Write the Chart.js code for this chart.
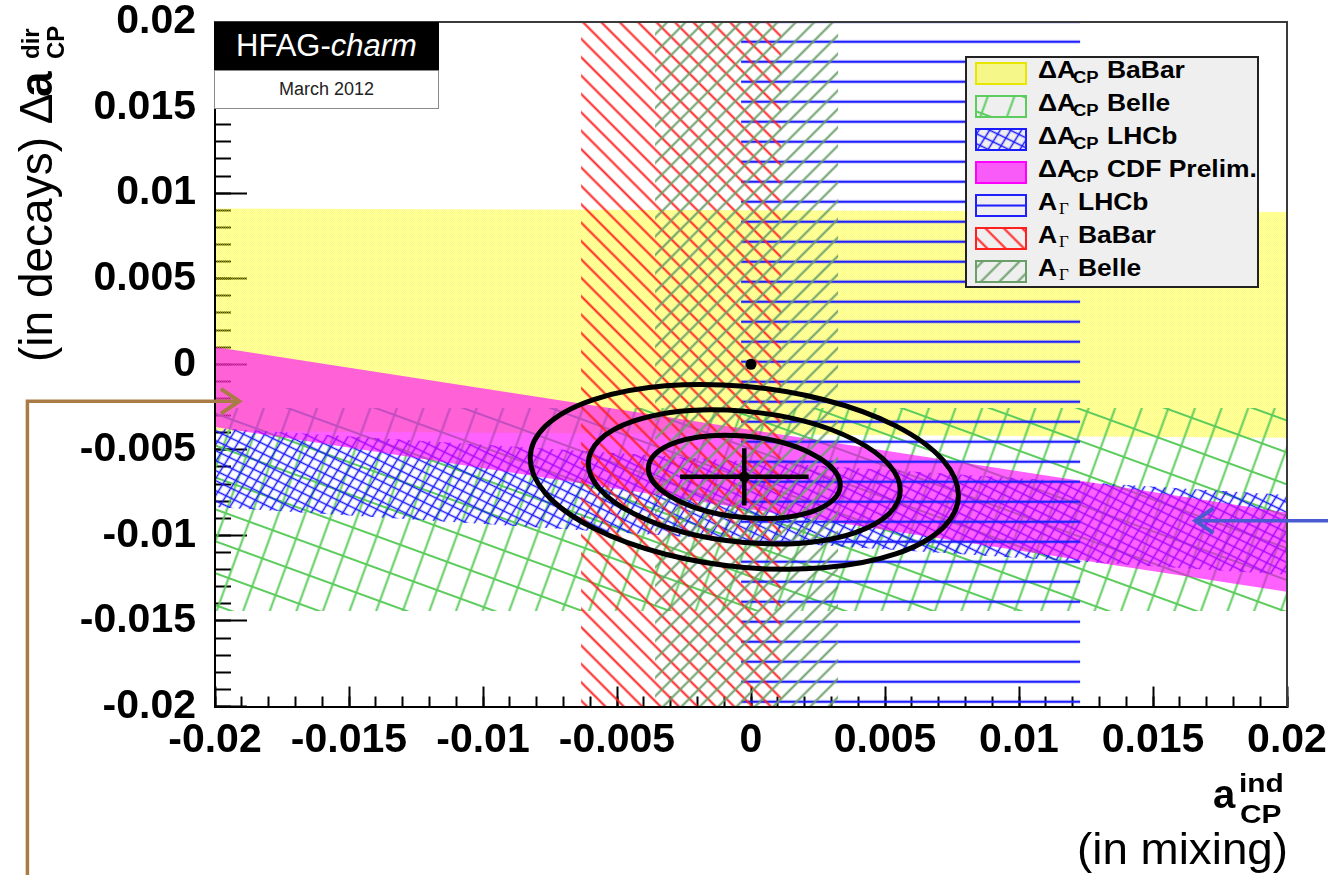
<!DOCTYPE html>
<html>
<head>
<meta charset="utf-8">
<title>a_CP^ind vs Δa_CP^dir</title>
<script src="https://cdn.jsdelivr.net/npm/chart.js@4.4.1/dist/chart.umd.min.js"></script>
<style>
  body { margin: 0; background: #fff; }
  #page { position: relative; width: 1328px; height: 875px; overflow: hidden;
          font-family: "Liberation Sans", Arial, Helvetica, sans-serif; color: #000; }
  #plot { position: absolute; left: 0; top: 0; }
  .txt { position: absolute; white-space: nowrap; line-height: 1; transform-origin: 0 0; }
  .b { font-weight: bold; }
  #hfag { position: absolute; left: 214px; top: 22px; width: 225px; height: 48px; background: #000;
          color: #fff; font-size: 31px; display: flex; align-items: center; justify-content: center; }
  #date { position: absolute; left: 214px; top: 70px; width: 223px; height: 37px; background: #fff;
          border: 1px solid #8a8a8a; font-size: 18px; color: #222;
          display: flex; align-items: center; justify-content: center; }
  #legend { position: absolute; left: 965px; top: 56px; width: 290px; height: 228px;
            background: #efefef; border: 2px solid #222; }
  #legend canvas { position: absolute; left: 8px; }
  #ytitle { position: absolute; left: 0; top: 875px; width: 875px; height: 80px;
            transform-origin: 0 0; transform: rotate(-90deg); }
</style>
</head>
<body>
<div id="page">
  <canvas id="plot" width="1328" height="875"></canvas>
  <div id="hfag"><span>HFAG-<i>charm</i></span></div>
  <div id="date">March 2012</div>
  <div id="legend"></div>
  <div id="ytitle">
    <span class="txt" style="left:513px; top:13px; font-size:46px;">(in decays) Δ</span>
    <span class="txt b" style="left:778px; top:13px; font-size:46px;">a</span>
    <span class="txt b" style="left:816px; top:19px; font-size:24px;">dir</span>
    <span class="txt b" style="left:816px; top:44px; font-size:24px;">CP</span>
  </div>
  <span class="txt b" style="left:1213px; top:774px; font-size:40px;">a</span>
  <span class="txt b" style="left:1239px; top:770px; font-size:26px; transform:scaleX(1.15);">ind</span>
  <span class="txt b" style="left:1240px; top:801px; font-size:26px; transform:scaleX(1.15);">CP</span>
  <span class="txt" style="left:1077px; top:827px; font-size:44px; transform:scaleX(1.04);">(in mixing)</span>
</div>
<script>
// axis range and tick labels
const axisMin = -0.02, axisMax = 0.02;
const xTickValues = [-0.02, -0.015, -0.01, -0.005, 0, 0.005, 0.01, 0.015, 0.02];
const xTickLabels = ['-0.02', '-0.015', '-0.01', '-0.005', '0', '0.005', '0.01', '0.015', '0.02'];
const yTickValues = [-0.02, -0.015, -0.01, -0.005, 0, 0.005, 0.01, 0.015, 0.02];
const yTickLabels = ['-0.02', '-0.015', '-0.01', '-0.005', '0', '0.005', '0.01', '0.015', '0.02'];

// ΔA_CP bands: upper/lower edge at a_ind = -0.02 and +0.02
const bandEnds = [-0.02, 0.02];
const babarDacpHigh = [0.0091, 0.0089];
const babarDacpLow = [-0.0039, -0.0043];
const belleDacpHigh = [-0.00255, -0.00255];
const belleDacpLow = [-0.01442, -0.01442];
const lhcbDacpHigh = [-0.00372, -0.00764];
const lhcbDacpLow = [-0.00834, -0.0123];
const cdfDacpHigh = [0.00101, -0.00868];
const cdfDacpLow = [-0.00366, -0.0133];

// A_Gamma bands: a_ind range, over the whole Δa_dir axis
const fullSpan = [-0.02, 0.02];
const lhcbAgamma = [-0.00037, 0.01228];
const babarAgamma = [-0.00634, 0.00113];
const belleAgamma = [-0.00358, 0.00325];

// combined fit: central value, 1 sigma errors, 1/2/3 sigma contour half extents
const fitPoint = [-0.00025, -0.00658];
const fitErrors = [0.0024, 0.00167];
const contourHalfX = [0.00358, 0.00582, 0.00799];
const contourHalfY = [0.00243, 0.00392, 0.0054];
const contourCorr = -0.2;
const noCpvPoint = [0, 0];

// pointer arrows
const leftArrowX = [-0.0270, -0.0270, -0.0191];
const leftArrowY = [-0.0299, -0.00216, -0.00216];
const rightArrowX = [0.0216, 0.01658];
const rightArrowY = [-0.00914, -0.00914];

// legend
const legendMain = ['ΔA', 'ΔA', 'ΔA', 'ΔA', 'A', 'A', 'A'];
const legendSub = ['CP', 'CP', 'CP', 'CP', 'Γ', 'Γ', 'Γ'];
const legendName = ['BaBar', 'Belle', 'LHCb', 'CDF Prelim.', 'LHCb', 'BaBar', 'Belle'];

// fill patterns
function tile(w, h) {
  const c = document.createElement('canvas');
  c.width = w; c.height = h;
  return c;
}
function hatch(color, width, spacing, angle, shift = 0) {
  const c = tile(8, spacing);
  const g = c.getContext('2d');
  g.strokeStyle = color; g.lineWidth = width;
  g.beginPath(); g.moveTo(0, spacing / 2); g.lineTo(8, spacing / 2); g.stroke();
  const p = g.createPattern(c, 'repeat');
  p.setTransform(new DOMMatrix().rotate(angle).translate(0, shift));
  return p;
}
function dots(color, cells) {
  const c = tile(2, 2);
  const g = c.getContext('2d');
  g.fillStyle = color;
  cells.forEach(([i, j, a]) => { g.globalAlpha = a; g.fillRect(i, j, 1, 1); });
  return g.createPattern(c, 'repeat');
}

const cYellow = '#ffff00', cBelle = '#5ccc5c', cLhcb = '#1a1aff', cCdf = '#ff00ff';
const cLines = '#2020ff', cBabarG = '#ff2020', cBelleG = '#6a9f6a';

const yellowFill = dots(cYellow, [[0, 0, 0.6], [1, 1, 0.6], [1, 0, 0.25], [0, 1, 0.25]]);
const belleMeshA = hatch(cBelle, 2, 25, -70);
const belleMeshB = hatch(cBelle, 2, 30, 20);
const lhcbMeshA = hatch(cLhcb, 1.5, 9, -58);
const lhcbMeshB = hatch(cLhcb, 1.5, 9, 26);
const cdfFill = 'rgba(255, 0, 255, 0.62)';
const lhcbLines = hatch(cLines, 2.4, 20, 0, -8.3);
const babarHatch = hatch(cBabarG, 2, 13, 45);
const belleHatch = hatch(cBelleG, 2, 13, -45);

function dacpBand(high, low) {
  return [
    { x: bandEnds[0], y: high[0] }, { x: bandEnds[1], y: high[1] },
    { x: bandEnds[1], y: low[1] }, { x: bandEnds[0], y: low[0] },
    { x: bandEnds[0], y: high[0] }
  ];
}
function agammaBand(range) {
  return [
    { x: range[0], y: fullSpan[0] }, { x: range[0], y: fullSpan[1] },
    { x: range[1], y: fullSpan[1] }, { x: range[1], y: fullSpan[0] },
    { x: range[0], y: fullSpan[0] }
  ];
}
function area(data, fill) {
  return { data, showLine: true, fill: 'shape', backgroundColor: fill,
           borderWidth: 0, borderColor: 'transparent', pointRadius: 0, tension: 0 };
}

// listed from bottom to top
const layers = [
  area(dacpBand(babarDacpHigh, babarDacpLow), yellowFill),
  area(dacpBand(belleDacpHigh, belleDacpLow), belleMeshA),
  area(dacpBand(belleDacpHigh, belleDacpLow), belleMeshB),
  area(dacpBand(lhcbDacpHigh, lhcbDacpLow), lhcbMeshA),
  area(dacpBand(lhcbDacpHigh, lhcbDacpLow), lhcbMeshB),
  area(dacpBand(cdfDacpHigh, cdfDacpLow), cdfFill),
  area(agammaBand(lhcbAgamma), lhcbLines),
  area(agammaBand(babarAgamma), babarHatch),
  area(agammaBand(belleAgamma), belleHatch),
  { data: [{ x: fitPoint[0] - fitErrors[0], y: fitPoint[1] }, { x: fitPoint[0] + fitErrors[0], y: fitPoint[1] }],
    showLine: true, borderColor: '#000', borderWidth: 4.5, pointRadius: 0 },
  { data: [{ x: fitPoint[0], y: fitPoint[1] - fitErrors[1] }, { x: fitPoint[0], y: fitPoint[1] + fitErrors[1] }],
    showLine: true, borderColor: '#000', borderWidth: 4.5, pointRadius: 0 },
  { data: [{ x: fitPoint[0], y: fitPoint[1] }, { x: noCpvPoint[0], y: noCpvPoint[1] }],
    showLine: false, pointRadius: 5.5, pointBackgroundColor: '#000', pointBorderWidth: 0 }
];
layers.forEach((d, i) => { d.order = layers.length - i; });

// 1, 2 and 3 sigma contours around the fit point
const contourPlugin = {
  id: 'contours',
  afterDatasetsDraw(chart) {
    const { ctx, scales: { x, y } } = chart;
    const cx = x.getPixelForValue(fitPoint[0]);
    const cy = y.getPixelForValue(fitPoint[1]);
    const s = Math.sqrt(1 - contourCorr * contourCorr);
    ctx.save();
    ctx.lineWidth = 5;
    ctx.strokeStyle = '#000';
    contourHalfX.forEach((hx, i) => {
      const ax = x.getPixelForValue(fitPoint[0] + hx) - cx;
      const ay = cy - y.getPixelForValue(fitPoint[1] + contourHalfY[i]);
      ctx.save();
      ctx.translate(cx, cy);
      ctx.transform(ax, -ay * contourCorr, 0, -ay * s, 0, 0);
      ctx.beginPath();
      ctx.arc(0, 0, 1, 0, Math.PI * 2);
      ctx.restore();
      ctx.stroke();
    });
    ctx.restore();
  }
};

// arrows pointing at the CDF and LHCb bands
function drawArrow(ctx, pts, color) {
  ctx.save();
  ctx.strokeStyle = color;
  ctx.lineWidth = 3.5;
  ctx.beginPath();
  pts.forEach((p, i) => (i ? ctx.lineTo(p[0], p[1]) : ctx.moveTo(p[0], p[1])));
  ctx.stroke();
  const [ax, ay] = pts[pts.length - 1];
  const [bx, by] = pts[pts.length - 2];
  const a = Math.atan2(ay - by, ax - bx);
  ctx.lineWidth = 4;
  ctx.beginPath();
  ctx.moveTo(ax - 22 * Math.cos(a - 0.6), ay - 22 * Math.sin(a - 0.6));
  ctx.lineTo(ax, ay);
  ctx.lineTo(ax - 22 * Math.cos(a + 0.6), ay - 22 * Math.sin(a + 0.6));
  ctx.stroke();
  ctx.restore();
}
const arrowPlugin = {
  id: 'arrows',
  afterDraw(chart) {
    const { ctx, scales: { x, y } } = chart;
    drawArrow(ctx, leftArrowX.map((v, i) => [x.getPixelForValue(v), y.getPixelForValue(leftArrowY[i])]), '#a97c45');
    drawArrow(ctx, rightArrowX.map((v, i) => [x.getPixelForValue(v), y.getPixelForValue(rightArrowY[i])]), '#4a5ad0');
  }
};

const tickFont = { family: 'Liberation Sans', weight: 'bold', size: 41, lineHeight: 1 };

// the label overhang must not push the plot frame around
function noOverhang(s) {
  s.paddingLeft = s.paddingRight = s.paddingTop = s.paddingBottom = 0;
}
function frameAxis(position, size) {
  return {
    type: 'linear', position, min: axisMin, max: axisMax,
    ticks: { display: false },
    grid: { display: true, drawOnChartArea: false, drawTicks: false },
    border: { display: true, color: '#3a3a3a', width: 2, z: 1 },
    afterFit: s => { if (s.isHorizontal()) s.height = size; else s.width = size; noOverhang(s); }
  };
}
function minorAxis(position, len) {
  return {
    type: 'linear', position, min: axisMin, max: axisMax, weight: 0,
    ticks: { display: false, stepSize: 0.001, autoSkip: false },
    grid: { display: true, drawOnChartArea: false, drawTicks: true, tickLength: -len, tickWidth: 2, tickColor: '#000' },
    border: { display: false },
    afterFit: s => { if (s.isHorizontal()) s.height = 0; else s.width = 0; noOverhang(s); }
  };
}

new Chart(document.getElementById('plot'), {
  type: 'scatter',
  data: { datasets: layers },
  options: {
    responsive: false,
    animation: false,
    devicePixelRatio: 1,
    layout: { padding: { left: 0, right: 0, top: 0, bottom: 108.5 } },
    plugins: { legend: { display: false }, tooltip: { enabled: false } },
    scales: {
      x: {
        type: 'linear', position: 'bottom', weight: 1, min: axisMin, max: axisMax,
        afterBuildTicks: s => { s.ticks = xTickValues.map(v => ({ value: v })); },
        ticks: { autoSkip: false, maxRotation: 0, minRotation: 0, padding: 34, color: '#000', font: tickFont,
                 callback: (v, i) => xTickLabels[i] },
        grid: { display: true, drawOnChartArea: false, drawTicks: true, tickLength: -20, tickWidth: 2, tickColor: '#000' },
        border: { display: true, color: '#000', width: 2, z: 1 },
        afterFit: s => { s.height = 60; noOverhang(s); }
      },
      y: {
        type: 'linear', position: 'left', weight: 1, min: axisMin, max: axisMax,
        afterBuildTicks: s => { s.ticks = yTickValues.map(v => ({ value: v })); },
        ticks: { autoSkip: false, padding: 51, color: '#000', font: tickFont,
                 callback: (v, i) => yTickLabels[i] },
        grid: { display: true, drawOnChartArea: false, drawTicks: true, tickLength: -32, tickWidth: 2, tickColor: '#000' },
        border: { display: true, color: '#000', width: 2, z: 1 },
        afterFit: s => { s.width = 215; noOverhang(s); }
      },
      xMinor: minorAxis('bottom', 10),
      yMinor: minorAxis('left', 16),
      xTop: frameAxis('top', 22),
      yRight: frameAxis('right', 41)
    }
  },
  plugins: [contourPlugin, arrowPlugin]
});

// legend with pattern swatches
const swatches = [
  { fills: [yellowFill], edge: '#e6e600' },
  { fills: [belleMeshA, belleMeshB], edge: cBelle },
  { fills: [lhcbMeshA, lhcbMeshB], edge: cLhcb },
  { fills: [cdfFill], edge: cCdf },
  { fills: [hatch(cLines, 2, 20, 0, 1.5)], edge: cLines },
  { fills: [babarHatch], edge: cBabarG },
  { fills: [belleHatch], edge: cBelleG }
];
const legend = document.getElementById('legend');
legendName.forEach((name, i) => {
  const top = 33 * i;
  const c = document.createElement('canvas');
  c.width = 52; c.height = 23;
  c.style.top = (4 + top) + 'px';
  const g = c.getContext('2d');
  swatches[i].fills.forEach(f => { g.fillStyle = f; g.fillRect(0, 0, 52, 23); });
  g.strokeStyle = swatches[i].edge; g.lineWidth = 2; g.strokeRect(1, 1, 50, 21);
  legend.appendChild(c);

  const gamma = legendSub[i] === 'Γ';
  const html = [
    `<span class="txt b" style="left:71px; top:${1 + top}px; font-size:23px; transform:scaleX(1.15)">${legendMain[i]}</span>`,
    gamma
      ? `<span class="txt" style="left:92px; top:${10 + top}px; font-size:17px; font-family:'Liberation Serif'">${legendSub[i]}</span>`
      : `<span class="txt b" style="left:106px; top:${12 + top}px; font-size:16px; transform:scaleX(1.15)">${legendSub[i]}</span>`,
    `<span class="txt b" style="left:${gamma ? 111 : 140}px; top:${1 + top}px; font-size:23px; transform:scaleX(1.15)">${name}</span>`
  ];
  legend.insertAdjacentHTML('beforeend', html.join(''));
});
</script>
</body>
</html>
